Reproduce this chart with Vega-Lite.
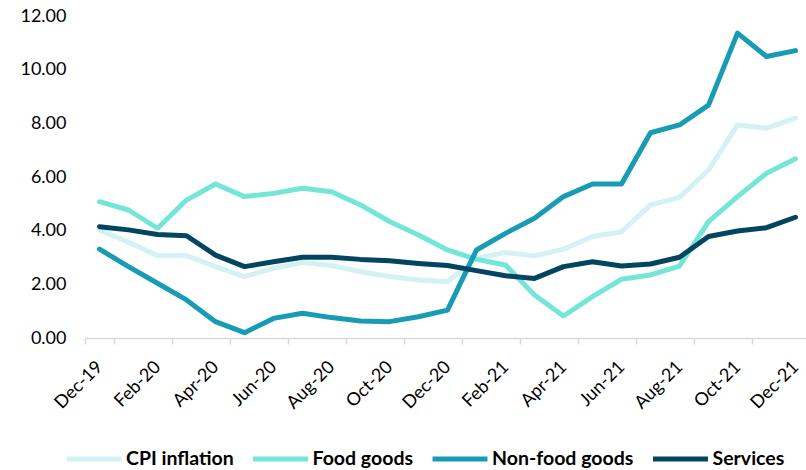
{
  "$schema": "https://vega.github.io/schema/vega-lite/v6.json",
  "width": 725,
  "height": 322,
  "autosize": {"type": "none"},
  "padding": {"left": 85, "top": 16, "right": 0, "bottom": 132},
  "background": "#ffffff",
  "config": {"view": {"stroke": null}, "font": "Lato"},
  "data": {
    "values": [
      {"month": "Dec-19", "CPI inflation": 4.03, "Food goods": 5.08, "Non-food goods": 3.31, "Services": 4.15},
      {"month": "Jan-20", "CPI inflation": 3.57, "Food goods": 4.77, "Non-food goods": 2.66, "Services": 4.03},
      {"month": "Feb-20", "CPI inflation": 3.07, "Food goods": 4.09, "Non-food goods": 2.04, "Services": 3.86},
      {"month": "Mar-20", "CPI inflation": 3.07, "Food goods": 5.14, "Non-food goods": 1.42, "Services": 3.81},
      {"month": "Apr-20", "CPI inflation": 2.66, "Food goods": 5.74, "Non-food goods": 0.61, "Services": 3.09},
      {"month": "May-20", "CPI inflation": 2.29, "Food goods": 5.27, "Non-food goods": 0.2, "Services": 2.66},
      {"month": "Jun-20", "CPI inflation": 2.6, "Food goods": 5.39, "Non-food goods": 0.73, "Services": 2.84},
      {"month": "Jul-20", "CPI inflation": 2.81, "Food goods": 5.58, "Non-food goods": 0.92, "Services": 3.01},
      {"month": "Aug-20", "CPI inflation": 2.7, "Food goods": 5.45, "Non-food goods": 0.76, "Services": 3.01},
      {"month": "Sep-20", "CPI inflation": 2.47, "Food goods": 4.96, "Non-food goods": 0.63, "Services": 2.93},
      {"month": "Oct-20", "CPI inflation": 2.29, "Food goods": 4.34, "Non-food goods": 0.61, "Services": 2.88},
      {"month": "Nov-20", "CPI inflation": 2.16, "Food goods": 3.84, "Non-food goods": 0.79, "Services": 2.78},
      {"month": "Dec-20", "CPI inflation": 2.1, "Food goods": 3.28, "Non-food goods": 1.04, "Services": 2.7},
      {"month": "Jan-21", "CPI inflation": 2.97, "Food goods": 2.93, "Non-food goods": 3.28, "Services": 2.51},
      {"month": "Feb-21", "CPI inflation": 3.19, "Food goods": 2.72, "Non-food goods": 3.9, "Services": 2.32},
      {"month": "Mar-21", "CPI inflation": 3.06, "Food goods": 1.6, "Non-food goods": 4.46, "Services": 2.22},
      {"month": "Apr-21", "CPI inflation": 3.31, "Food goods": 0.82, "Non-food goods": 5.27, "Services": 2.66},
      {"month": "May-21", "CPI inflation": 3.78, "Food goods": 1.54, "Non-food goods": 5.74, "Services": 2.84},
      {"month": "Jun-21", "CPI inflation": 3.96, "Food goods": 2.19, "Non-food goods": 5.74, "Services": 2.68},
      {"month": "Jul-21", "CPI inflation": 4.96, "Food goods": 2.35, "Non-food goods": 7.65, "Services": 2.76},
      {"month": "Aug-21", "CPI inflation": 5.24, "Food goods": 2.68, "Non-food goods": 7.94, "Services": 3.01},
      {"month": "Sep-21", "CPI inflation": 6.26, "Food goods": 4.34, "Non-food goods": 8.68, "Services": 3.78},
      {"month": "Oct-21", "CPI inflation": 7.94, "Food goods": 5.27, "Non-food goods": 11.36, "Services": 3.99},
      {"month": "Nov-21", "CPI inflation": 7.82, "Food goods": 6.14, "Non-food goods": 10.49, "Services": 4.11},
      {"month": "Dec-21", "CPI inflation": 8.19, "Food goods": 6.68, "Non-food goods": 10.71, "Services": 4.5}
    ]
  },
  "transform": [
    {"fold": ["CPI inflation", "Food goods", "Non-food goods", "Services"], "as": ["series", "value"]}
  ],
  "mark": {"type": "line", "strokeWidth": 5, "strokeJoin": "round", "strokeCap": "round"},
  "encoding": {
    "x": {
      "field": "month",
      "type": "ordinal",
      "sort": null,
      "bandPosition": 0.5,
      "scale": {"type": "band", "paddingInner": 0, "paddingOuter": 0},
      "axis": {
        "title": null,
        "values": ["Dec-19", "Feb-20", "Apr-20", "Jun-20", "Aug-20", "Oct-20", "Dec-20", "Feb-21", "Apr-21", "Jun-21", "Aug-21", "Oct-21", "Dec-21"],
        "tickBand": "extent",
        "labelAngle": -45,
        "labelAlign": "right",
        "labelBaseline": "middle",
        "labelFontSize": 18,
        "labelColor": "#000000",
        "labelPadding": 20,
        "domainColor": "#d9d9d9",
        "domainWidth": 1.5,
        "tickColor": "#d9d9d9",
        "tickWidth": 1.5,
        "tickSize": 6,
        "grid": false
      }
    },
    "y": {
      "field": "value",
      "type": "quantitative",
      "scale": {"domain": [0, 12], "nice": false},
      "axis": {
        "title": null,
        "values": [0, 2, 4, 6, 8, 10, 12],
        "format": ".2f",
        "domain": false,
        "ticks": false,
        "grid": false,
        "labelPadding": 19,
        "labelFontSize": 18,
        "labelColor": "#000000"
      }
    },
    "color": {
      "field": "series",
      "type": "nominal",
      "scale": {
        "domain": ["CPI inflation", "Food goods", "Non-food goods", "Services"],
        "range": ["#d4f1f3", "#74e6d8", "#189bb4", "#034560"]
      },
      "legend": {
        "orient": "none",
        "legendX": -21,
        "legendY": 413,
        "direction": "horizontal",
        "title": null,
        "padding": 0,
        "symbolType": "stroke",
        "symbolSize": 3025,
        "symbolStrokeWidth": 5,
        "labelFontSize": 19.5,
        "labelFontWeight": "bold",
        "labelColor": "#000000",
        "labelOffset": 2,
        "columnPadding": 8.5
      }
    }
  }
}
